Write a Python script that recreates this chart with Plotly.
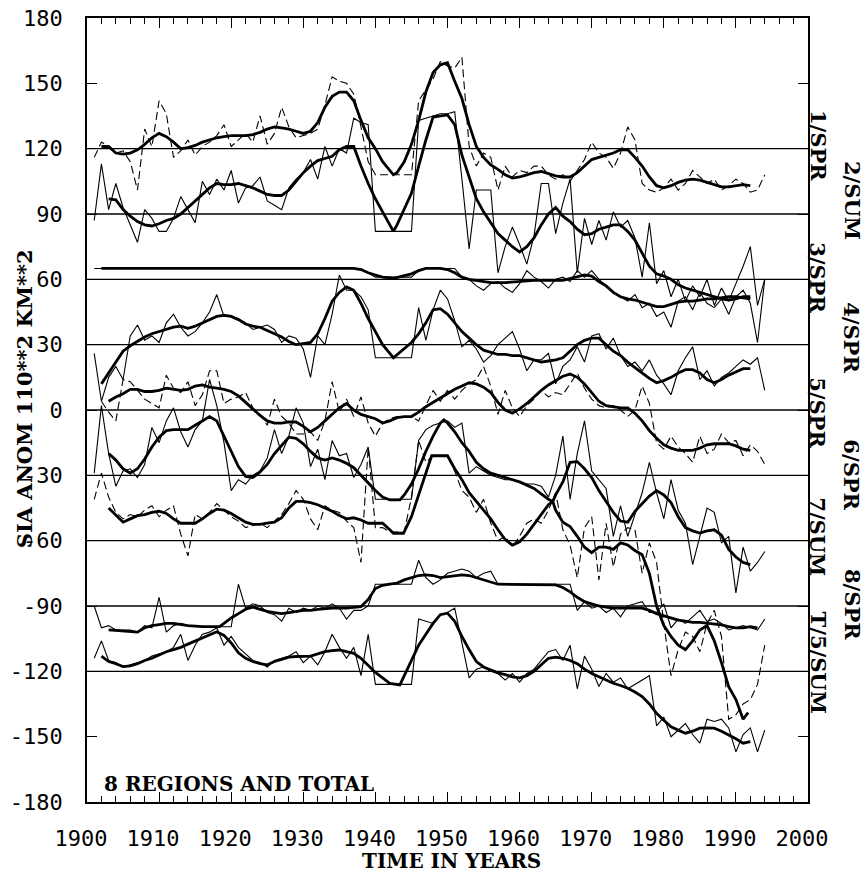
import plotly.graph_objects as go

# ---------------- data ----------------
BASELINES = [120, 90, 60, 30, 0, -30, -60, -90, -120]
LABELS = ["1/SPR", "2/SUM", "3/SPR", "4/SPR", "5/SPR", "6/SPR", "7/SUM", "8/SPR", "T/5/SUM"]
LABEL_Y = [121.7, 96, 61, 33, -1, -30, -58, -89.5, -116]

X_TICKS = [1900, 1910, 1920, 1930, 1940, 1950, 1960, 1970, 1980, 1990, 2000]
X_TICK_TEXT = ["1900", "1910", "1920", "1930", "1940", "1950", "1960", "1970", "1980", "1990", "2000"]
Y_TICKS = [180, 150, 120, 90, 60, 30, 0, -30, -60, -90, -120, -150, -180]
Y_TICK_TEXT = ["180", "150", "120", "90", "60", "30", "0", "-30", "-60", "-90", "-120", "-150", "-180"]

# raw yearly series (start year, values)
R1_START = 1901
R1 = [116, 123, 121, 118, 119, 114, 101, 129, 121, 142,
      136, 116, 119, 124, 117, 121, 123, 126, 131, 121,
      124, 127, 123, 135, 122, 127, 139, 130, 125, 126,
      127, 129, 140, 153, 151, 150, 145, 130, 114, 108,
      108, 108, 108, 108, 108, 142, 147, 152, 160, 158,
      157, 162, 121, 112, 118, 116, 101, 112, 107, 110,
      109, 112, 112, 108, 106, 108, 105, 110, 115, 123,
      118, 116, 111, 118, 130, 124, 104, 101, 100, 102,
      106, 101, 104, 110, 107, 104, 106, 101, 103, 106,
      104, 100, 101, 108]
R2_START = 1901
R2 = [87, 113, 92, 104, 93, 85, 77, 92, 88, 82,
      82, 88, 98, 92, 86, 105, 99, 106, 101, 110,
      95, 102, 103, 107, 96, 94, 92, 102, 106, 109,
      115, 106, 121, 112, 120, 118, 134, 132, 131, 82,
      82, 82, 82, 82, 82, 133, 134, 135, 136, 136,
      137, 106, 74, 101, 101, 101, 63, 75, 84, 76,
      67, 80, 104, 104, 81, 95, 106, 63, 88, 76,
      87, 78, 91, 84, 87, 79, 61, 86, 58, 64,
      52, 60, 50, 57, 52, 60, 48, 56, 50, 58,
      66, 75, 48, 60]
R3_START = 1901
R3 = [65, 65, 65, 65, 65, 65, 65, 65, 65, 65,
      65, 65, 65, 65, 65, 65, 65, 65, 65, 65,
      65, 65, 65, 65, 65, 65, 65, 65, 65, 65,
      65, 65, 65, 65, 65, 65, 65, 65, 63, 61,
      61, 61, 61, 61, 61, 64, 65, 65, 65, 65,
      65, 61, 60, 57, 55, 58, 59, 56, 54, 58,
      64, 61, 59, 56, 60, 61, 59, 64, 61, 64,
      60, 57, 54, 52, 50, 53, 47, 49, 43, 45,
      38, 50, 52, 46, 54, 49, 47, 51, 44, 52,
      55, 49, 31, 60]
R4_START = 1901
R4 = [26, 4, 15, 20, 14, 34, 39, 32, 34, 31,
      40, 44, 38, 34, 36, 40, 45, 53, 43, 43,
      42, 40, 37, 38, 39, 37, 31, 34, 33, 28,
      15, 34, 30, 44, 62, 55, 55, 52, 46, 24,
      24, 24, 24, 24, 24, 47, 32, 46, 55, 51,
      41, 29, 32, 28, 22, 25, 30, 33, 36, 28,
      18, 23, 23, 26, 12, 20, 23, 29, 22, 34,
      35, 28, 33, 25, 20, 22, 18, 23, 16, 12,
      7, 18, 24, 29, 14, 18, 11, 15, 17, 20,
      23, 21, 24, 9]
R5_START = 1902
R5 = [4, -1, -5, 14, 13, 9, 5, 3, 1,
      16, 10, 8, 13, 2, 7, 18, 18, 3, 5,
      6, 8, 1, -2, -7, 5, -3, -6, -11, -11,
      -10, -14, -5, 13, -1, 5, -3, 6, -6, -12,
      -6, -4, -3, -3, -3, -5, 2, 9, 4, 9,
      5, 9, 12, 14, 20, 11, -2, 9, 1, -3,
      2, 5, 9, 6, 8, 7, 12, 17, 10, 5,
      2, 1, 2, 0, -3, 0, 11, 3, -15, -18,
      -12, -17, -20, -24, -12, -20, -18, -11, -15, -14,
      -21, -16, -19, -25]
R6_START = 1901
R6 = [-29, 2, -20, -35, -28, -27, -31, -25, -8, -15,
      -5, 1, -10, -17, -9, -5, 14, 2, -15, -37,
      -32, -34, -30, -28, -22, -9, -20, -12, 1, -6,
      -26, -18, -32, -14, -21, -20, -31, -25, -17, -41,
      -41, -41, -41, -41, -41, -14, -9, -7, -6, -5,
      -8, -6, -29, -26, -28, -30, -31, -32, -32, -33,
      -34, -34, -35, -40, -30, -12, -41, -20, -5, -28,
      -32, -36, -58, -44, -58, -48, -38, -24, -38, -50,
      -32, -46, -52, -71, -58, -45, -47, -61, -58, -84,
      -63, -74, -70, -65]
R7_START = 1901
R7 = [-41, -29, -40, -47, -50, -48, -49, -46, -44, -49,
      -46, -44, -57, -67, -48, -50, -47, -43, -46, -49,
      -51, -54, -53, -52, -54, -51, -48, -43, -37, -41,
      -50, -55, -44, -46, -47, -51, -54, -70, -17, -54,
      -54, -56, -56, -56, -40, -14, -24, -21, -21, -21,
      -28, -37, -40, -47, -41, -52, -60, -58, -63, -58,
      -52, -50, -52, -46, -38, -55, -62, -77, -54, -49,
      -78, -52, -72, -57, -54, -55, -75, -61, -70, -98,
      -122, -110, -102, -104, -111, -98, -92, -104, -142, -140,
      -135, -133, -126, -108]
R8_START = 1901
R8 = [-90, -100, -99, -101, -101, -101, -102, -99, -100, -86,
      -102, -99, -98, -99, -99, -99.5, -99.5, -99.5, -99.5, -99.5,
      -80, -91, -89, -90, -93, -94, -97, -91, -93, -91,
      -92, -90, -91, -89, -91, -96, -92, -92, -90, -80,
      -80, -80, -80, -80, -80, -69, -77, -80, -78, -75,
      -74, -73, -74, -77, -75, -74, -80, -80, -80, -80,
      -80, -80, -80, -80, -80, -80, -80, -92, -88, -91,
      -90, -93, -91, -95, -90, -89, -88, -93, -93, -89,
      -100, -96, -98, -95, -92, -97, -96, -98, -101, -100,
      -99, -100, -101, -96]
RT_START = 1901
RT = [-114, -106, -115, -116, -118, -117, -116, -115, -113, -112,
      -111, -109, -103, -115, -108, -103, -102, -100, -108, -104,
      -109, -112, -115, -116, -118, -115, -114, -113, -111, -116,
      -113, -117, -111, -103, -109, -114, -109, -122, -103, -126,
      -126, -126, -126, -126, -126, -96, -97, -98, -94, -93,
      -91, -107, -123, -119, -118, -120, -121, -124, -121, -125,
      -121, -119, -115, -111, -110, -115, -108, -128, -113, -119,
      -127, -121, -125, -123, -128, -126, -124, -122, -145, -141,
      -150, -147, -144, -149, -153, -142, -143, -142, -146, -157,
      -149, -146, -157, -147]

# smoothed series (years, values)
S1_X = [1902, 1903, 1904, 1905, 1906, 1907, 1908, 1909, 1910, 1911, 1912, 1913, 1914, 1915, 1916, 1917,
        1918, 1919, 1920, 1921, 1922, 1923, 1924, 1925, 1926, 1927, 1928, 1929, 1930, 1931, 1932, 1933,
        1934, 1935, 1936, 1937, 1938, 1939, 1940, 1941, 1942, 1942.5, 1943, 1944, 1945, 1946, 1947, 1948,
        1949, 1950, 1951, 1952, 1953, 1954, 1955, 1956, 1957, 1958, 1959, 1960, 1961, 1962, 1963, 1964,
        1965, 1966, 1967, 1968, 1969, 1970, 1971, 1972, 1973, 1974, 1975, 1976, 1977, 1978, 1979, 1980,
        1981, 1982, 1983, 1984, 1985, 1986, 1987, 1988, 1989, 1990, 1991, 1992]
S1_Y = [121, 121, 118, 117.5, 118, 119.5, 122, 125, 127, 125.5, 123, 120, 120.5, 121.5, 123, 124,
        125, 125.5, 126, 126, 126, 126.5, 127.5, 129, 130, 129.5, 129, 128, 127, 128, 132, 139,
        144, 146, 146, 142, 133, 125, 120, 114, 110, 108, 109, 114, 122, 133, 146, 155,
        158.5, 159.5, 151, 143, 131, 121, 116, 112.5, 110.5, 108, 106.5, 107, 108, 109, 109.5, 108.5,
        107.5, 107, 107, 109, 112, 115, 116, 117, 118, 119.5, 119.5, 116, 112, 107, 103, 102,
        103, 104.5, 105.5, 106, 105.5, 104.5, 103.5, 102.5, 102.5, 103, 103.5, 103]

S2_X = [1903, 1904, 1905, 1906, 1907, 1908, 1909, 1910, 1911, 1912, 1913, 1914, 1915, 1916, 1917, 1918,
        1919, 1920, 1921, 1922, 1923, 1924, 1925, 1926, 1927, 1928, 1929, 1930, 1931, 1932, 1933, 1934,
        1935, 1936, 1937, 1938, 1939, 1940, 1941, 1942, 1942.5, 1943, 1944, 1945, 1946, 1947, 1948, 1949,
        1950, 1951, 1952, 1953, 1954, 1955, 1956, 1957, 1958, 1959, 1960, 1961, 1962, 1963, 1964, 1965,
        1966, 1967, 1968, 1969, 1970, 1971, 1972, 1973, 1974, 1975, 1976, 1977, 1978, 1979, 1980, 1981,
        1982, 1983, 1984, 1985, 1986, 1987, 1988, 1989, 1990, 1991, 1992]
S2_Y = [97, 96.5, 92, 89, 86.5, 85, 84.5, 85.5, 87, 88, 90, 93, 96, 99, 102, 104,
        103.5, 103.5, 104, 103, 102, 100.5, 99, 98.5, 98.5, 101, 105, 109, 112, 114.5, 115.5, 116.5,
        119.5, 121, 121, 112, 104, 97, 91, 85, 82, 85, 92.5, 99.5, 112, 124, 134.5, 135,
        135.5, 131, 117, 107, 97, 91, 86, 81, 78, 75, 72.5, 75, 79, 85, 90, 93,
        89, 86.5, 83, 80.5, 81, 83, 84, 85, 85, 82, 78, 72, 66, 62.5, 61.5, 60,
        57.5, 56, 55, 54, 53, 52, 51, 50.5, 51, 52, 52]

S3_X = [1902, 1937, 1938, 1939, 1940, 1941, 1942.5, 1944, 1945, 1946, 1947, 1949, 1950, 1951, 1952, 1953,
        1954, 1955, 1956, 1958, 1960, 1962, 1966, 1968, 1969, 1970, 1971, 1972, 1973, 1974, 1975, 1976,
        1977, 1978, 1979, 1980, 1981, 1982, 1983, 1984, 1985, 1986, 1987, 1988, 1989, 1990, 1991, 1992]
S3_Y = [65, 65, 64.5, 63, 62, 61, 60.5, 61.5, 62.5, 64, 65, 65, 64.5, 63, 61, 60,
        59.5, 59, 58.5, 58.5, 59, 59.5, 59.5, 61, 62, 61.5, 59, 57, 54, 52, 51, 50.5,
        49.5, 48.5, 47.5, 47.5, 48.5, 49.5, 50, 50, 50.5, 51, 51, 51.5, 52, 52, 51.5, 51]

S4_X = [1902, 1903, 1904, 1905, 1906, 1907, 1908, 1909, 1910, 1911, 1912, 1913, 1914, 1915, 1916, 1917,
        1918, 1919, 1920, 1921, 1922, 1923, 1924, 1925, 1926, 1927, 1928, 1929, 1930, 1931, 1932, 1933,
        1934, 1935, 1936, 1937, 1938, 1939, 1940, 1941, 1942.5, 1944, 1945, 1946, 1947, 1948, 1949, 1950,
        1951, 1952, 1953, 1954, 1955, 1956, 1957, 1958, 1959, 1960, 1961, 1962, 1963, 1964, 1965, 1966,
        1967, 1968, 1969, 1970, 1971, 1972, 1973, 1974, 1975, 1976, 1977, 1978, 1979, 1980, 1981, 1982,
        1983, 1984, 1985, 1986, 1987, 1988, 1989, 1990, 1991, 1992]
S4_Y = [12, 17, 22, 27, 29.5, 31.5, 33.5, 35, 36, 37, 38, 38.5, 37.5, 38.5, 40, 41.5,
        43, 43.5, 43, 41.5, 39.5, 38.5, 38, 36.5, 35, 33.5, 31.5, 30, 30.5, 31, 35, 42,
        50, 54, 56.5, 55, 49, 42, 36, 30, 24, 28, 31, 35, 40, 46, 46.5, 44,
        40, 36, 33, 30, 27.5, 26.5, 25.5, 25.5, 25, 25, 24, 23, 22, 22.5, 23, 24,
        27, 30, 32, 33, 33, 30, 27, 25, 22, 19.5, 17, 14.5, 12.5, 13.5, 15, 17,
        18.5, 18.5, 17, 14, 12.5, 14, 16, 17.5, 19, 19]

S5_X = [1903, 1904, 1905, 1906, 1907, 1908, 1909, 1910, 1911, 1912, 1913, 1914, 1915, 1916, 1917, 1918,
        1919, 1920, 1921, 1922, 1923, 1924, 1925, 1926, 1927, 1928, 1929, 1930, 1931, 1932, 1933, 1934,
        1935, 1936, 1937, 1938, 1939, 1940, 1941, 1942, 1943, 1944, 1945, 1946, 1947, 1948, 1949, 1950,
        1951, 1952, 1953, 1954, 1955, 1956, 1957, 1958, 1959, 1960, 1961, 1962, 1963, 1964, 1965, 1966,
        1967, 1968, 1969, 1970, 1971, 1972, 1973, 1974, 1975, 1976, 1977, 1978, 1979, 1980, 1981, 1982,
        1983, 1984, 1985, 1986, 1987, 1988, 1989, 1990, 1991, 1992]
S5_Y = [4, 6, 7.5, 9.5, 9.5, 8.5, 8.5, 9, 10, 9.5, 9, 9.5, 11, 11.5, 10.5, 10,
        9.5, 8.5, 6.5, 3.5, 0.5, -2.5, -5, -6, -6, -5.5, -5.5, -7.5, -10, -8, -5, -2,
        1, 3, 0, -2, -3, -4, -6, -5, -3.5, -3, -3, -1, 1.5, 3.5, 5.5, 7.5,
        9.5, 11, 12.5, 12, 10.5, 8, 3.5, 0, -1.5, 0.5, 3, 6, 9, 11.5, 13.5, 15.5,
        16.5, 15, 12, 8, 4, 2, 1.5, 1, 1, -1.5, -5, -9.5, -13, -16, -17.5, -18.5,
        -18.5, -18.5, -17.5, -16, -15.5, -15.5, -15.5, -16.5, -18, -18.5]

S6_X = [1903, 1904, 1905, 1906, 1907, 1908, 1909, 1910, 1911, 1912, 1913, 1914, 1915, 1916, 1917, 1918,
        1919, 1920, 1921, 1922, 1923, 1924, 1925, 1926, 1927, 1928, 1929, 1930, 1931, 1932, 1933, 1934,
        1935, 1936, 1937, 1938, 1939, 1940, 1941, 1942, 1943.4, 1944, 1945, 1946, 1947, 1948, 1949, 1949.5,
        1950, 1951, 1952, 1953, 1954, 1955, 1956, 1957, 1958, 1959, 1960, 1961, 1962, 1963, 1964, 1964.6,
        1965, 1966, 1967, 1968, 1969, 1970, 1971, 1972, 1973, 1974, 1975, 1976, 1977, 1978, 1979, 1980,
        1981, 1982, 1983, 1984, 1985, 1986, 1987, 1988, 1989, 1990, 1991, 1992]
S6_Y = [-20, -23, -27, -29, -27, -22.5, -17, -12.5, -9.5, -9, -9, -9, -7, -5, -3, -5,
        -12, -19, -26, -30.5, -31, -28.5, -25, -20, -16, -12.5, -13, -15.5, -19, -22, -23, -22,
        -23, -24.5, -26.5, -30, -34, -37, -40, -41.3, -41.3, -39, -34, -27, -19, -12, -6, -4.5,
        -6, -10, -15, -19, -24, -27, -29, -30, -31, -32, -33, -34.5, -36, -38.5, -41, -42,
        -39, -33, -24, -23.7, -27, -31, -37, -42, -47, -51, -51.5, -46.5, -43, -39.5, -37, -39,
        -42.5, -49, -54, -55.5, -56.5, -55.5, -55, -57.5, -64, -67.5, -70, -71]

S7_X = [1903, 1904, 1905, 1906, 1907, 1908, 1909, 1910, 1911, 1912, 1913, 1914, 1915, 1916, 1917, 1918,
        1919, 1920, 1921, 1922, 1923, 1924, 1925, 1926, 1927, 1928, 1929, 1930, 1931, 1932, 1933, 1934,
        1935, 1936, 1937, 1938, 1939, 1940, 1941, 1942, 1942.5, 1943.9, 1945, 1946, 1947, 1947.8, 1950, 1951,
        1952, 1953, 1954, 1955, 1956, 1957, 1958, 1959, 1960, 1961, 1962, 1963, 1964, 1964.6, 1965, 1966,
        1967, 1968, 1969, 1970, 1971, 1972, 1973, 1974, 1975, 1976, 1977, 1978, 1979, 1980, 1981, 1982,
        1983, 1984, 1985, 1986, 1987, 1988, 1989, 1990, 1991, 1991.7]
S7_Y = [-45, -48.5, -51.5, -50, -48.5, -48, -47, -46.5, -47.5, -50, -52, -52, -52, -50, -47.5, -45.5,
        -46, -47.5, -49.5, -51.5, -52.5, -52.5, -52, -51.5, -49.5, -45, -42, -42, -42.5, -43.5, -45, -46.5,
        -48.5, -50, -49.5, -50.5, -52, -52, -52, -55, -56.6, -56.6, -49, -39, -29.5, -21, -21, -27,
        -32, -38, -42, -46, -50, -55, -59.5, -62, -60.5, -57, -52.5, -48.5, -43.5, -42, -46, -51.5,
        -53.5, -58, -63, -65.5, -63, -63, -64, -61, -62, -64.5, -66.5, -75, -90, -99, -104, -108,
        -110, -106, -101, -99, -106, -116, -127, -133, -142, -139]

S8_X = [1903, 1906, 1907, 1908, 1909, 1910, 1911, 1912, 1913, 1914, 1916, 1918.4, 1919, 1920, 1921, 1922,
        1923, 1924, 1925, 1926, 1927, 1928, 1929, 1930, 1931, 1932, 1934, 1936, 1938, 1939, 1940, 1941,
        1942, 1943, 1944, 1945, 1946, 1947, 1948, 1949, 1950, 1951, 1952, 1953, 1954, 1955, 1956, 1957,
        1965, 1966, 1967, 1968, 1969, 1970, 1971, 1972, 1973, 1977, 1978, 1979, 1980, 1981, 1982, 1983,
        1984, 1985, 1986, 1987, 1988, 1989, 1990, 1991, 1992, 1993]
S8_Y = [-101, -101.5, -102, -100, -99, -98.5, -98, -98, -98.5, -99, -99.5, -99.5, -98, -95.5, -93.5, -91.5,
        -90.5, -91.5, -92.5, -93, -93.5, -93, -92.5, -92, -92, -91.5, -91, -91, -90.3, -87, -82, -80.5,
        -80, -79.5, -78, -77, -76, -75.7, -76, -77, -76.5, -76, -75.7, -76, -77, -78, -79, -80,
        -80.3, -81.5, -83.5, -86, -88, -89, -90, -90.5, -91, -91, -92, -93.5, -94.5, -95.5, -96.5, -97,
        -97.5, -97.5, -97.9, -98.2, -98.7, -99.5, -100, -100, -99.5, -100]

ST_X = [1902, 1903, 1904, 1905, 1906, 1907, 1908, 1909, 1910, 1911, 1912, 1913, 1914, 1915, 1916, 1917,
        1918, 1919, 1920, 1921, 1922, 1923, 1924, 1925, 1926, 1927, 1928, 1929, 1930, 1931, 1932, 1933,
        1934, 1935, 1936, 1937, 1938, 1939, 1940, 1941, 1942, 1943.4, 1944, 1945, 1946, 1947, 1948, 1949,
        1950, 1951, 1952, 1953, 1954, 1955, 1956, 1957, 1958, 1959, 1960, 1961, 1962, 1963, 1964, 1965,
        1966, 1967, 1968, 1969, 1970, 1971, 1972, 1973, 1974, 1975, 1976, 1977, 1978, 1979, 1980, 1981,
        1982, 1983, 1984, 1985, 1986, 1987, 1988, 1989, 1990, 1991, 1992]
ST_Y = [-113, -115.5, -116.5, -117.8, -117.5, -116.5, -115, -114, -112.5, -111, -110, -109, -107.5, -106, -104.5, -103,
        -101.8, -103.5, -107, -111.5, -114, -115.5, -116.5, -117, -115.5, -114.5, -113.5, -113.2, -113.2, -113, -112, -111,
        -110.5, -110.2, -111, -111.7, -114, -117.5, -120.5, -123, -125.5, -126.2, -122, -115, -108, -103, -98, -94,
        -93.3, -97, -104, -110, -115.5, -118, -119.5, -120.7, -121.5, -122.5, -123, -122, -120, -117, -114, -113.5,
        -114, -115, -116.5, -119, -121, -122.5, -124, -125.5, -126.5, -127.8, -129.5, -131.6, -135, -139.3, -142.5, -145.5,
        -147, -148.4, -147.5, -146.1, -146, -146.1, -147.5, -149.2, -151, -153, -152.3]

RAW = [(R1_START, R1, "dash"), (R2_START, R2, "solid"), (R3_START, R3, "solid"),
       (R4_START, R4, "solid"), (R5_START, R5, "dash"), (R6_START, R6, "solid"),
       (R7_START, R7, "dash"), (R8_START, R8, "solid"), (RT_START, RT, "solid")]
SMOOTH = [(S1_X, S1_Y), (S2_X, S2_Y), (S3_X, S3_Y), (S4_X, S4_Y), (S5_X, S5_Y),
          (S6_X, S6_Y), (S7_X, S7_Y), (S8_X, S8_Y), (ST_X, ST_Y)]

# ---------------- figure ----------------
fig = go.Figure()

for start, vals, style in RAW:
    xs = list(range(start, start + len(vals)))
    fig.add_trace(go.Scatter(
        x=xs, y=vals, mode="lines", showlegend=False, hoverinfo="skip",
        line=dict(color="black", width=1.1,
                  dash="8px,4px" if style == "dash" else "solid")))

for xs, ys in SMOOTH:
    fig.add_trace(go.Scatter(
        x=xs, y=ys, mode="lines", showlegend=False, hoverinfo="skip",
        line=dict(color="black", width=2.8)))

# invisible trace so the top tick axis is drawn
fig.add_trace(go.Scatter(x=[X_TICKS[0]], y=[BASELINES[0]], xaxis="x2", mode="lines",
                         showlegend=False, hoverinfo="skip", line=dict(width=0)))

for b in BASELINES:
    fig.add_shape(type="line", xref="paper", x0=0, x1=1, yref="y", y0=b, y1=b,
                  line=dict(color="black", width=1.3), layer="below")

SERIF = dict(family="DejaVu Serif", size=20, color="black", weight="bold")
SERIF_R = dict(family="DejaVu Serif", size=21, color="black", weight="bold")

for i, (lab, yv) in enumerate(zip(LABELS, LABEL_Y)):
    fig.add_annotation(text=lab, xref="paper", yref="y",
                       x=1.0139 if i % 2 == 0 else 1.061, y=yv,
                       textangle=90, showarrow=False, font=SERIF_R,
                       xanchor="center", yanchor="middle")

fig.add_annotation(text="SIA ANOM 110**2 KM**2", xref="paper", yref="paper",
                   x=-0.0874, y=0.515, textangle=-90, showarrow=False,
                   font=SERIF_R, xanchor="center", yanchor="middle")
fig.add_annotation(text="TIME IN YEARS", xref="paper", yref="paper",
                   x=0.506, y=-0.075, showarrow=False, font=SERIF,
                   xanchor="center", yanchor="middle")
fig.add_annotation(text="8 REGIONS AND TOTAL", xref="paper", yref="paper",
                   x=0.0208, y=0.023, showarrow=False, font=SERIF,
                   xanchor="left", yanchor="middle")

TICKFONT = dict(family="DejaVu Sans Mono", size=22, color="black")
MINOR = dict(tickmode="linear", tick0=1900, dtick=2, ticks="inside",
             ticklen=6, tickwidth=1, tickcolor="black")

fig.update_layout(
    width=865, height=874,
    margin=dict(l=87, r=57, t=18, b=72, autoexpand=False),
    paper_bgcolor="white", plot_bgcolor="white",
    showlegend=False,
    xaxis=dict(range=[1900, 2000], tickmode="array", tickvals=X_TICKS, ticktext=X_TICK_TEXT,
               ticks="inside", ticklen=10, tickwidth=1.2, tickcolor="black", minor=MINOR,
               showline=True, linewidth=1.6, linecolor="black", mirror=True,
               showgrid=False, zeroline=False, tickfont=TICKFONT, ticklabelstandoff=16,
               ticklabelshift=-6, ticklabeloverflow="allow", automargin=False),
    xaxis2=dict(range=[1900, 2000], overlaying="x", side="top", tickmode="array",
                tickvals=X_TICKS, ticks="inside", ticklen=10, tickwidth=1.2, tickcolor="black",
                minor=MINOR, showticklabels=False, showline=False, showgrid=False,
                zeroline=False, automargin=False),
    yaxis=dict(range=[-180, 180], tickmode="array", tickvals=Y_TICKS, ticktext=Y_TICK_TEXT,
               ticks="inside", ticklen=10, tickwidth=1.2, tickcolor="black",
               showline=True, linewidth=1.6, linecolor="black", mirror="ticks",
               showgrid=False, zeroline=False, tickfont=TICKFONT, ticklabelstandoff=18,
               ticklabeloverflow="allow", automargin=False),
)

# remove the default page margin so the figure fills the window exactly
fig.write_html("out.html", config={"displayModeBar": False},
               post_script="document.body.style.margin='0';")
